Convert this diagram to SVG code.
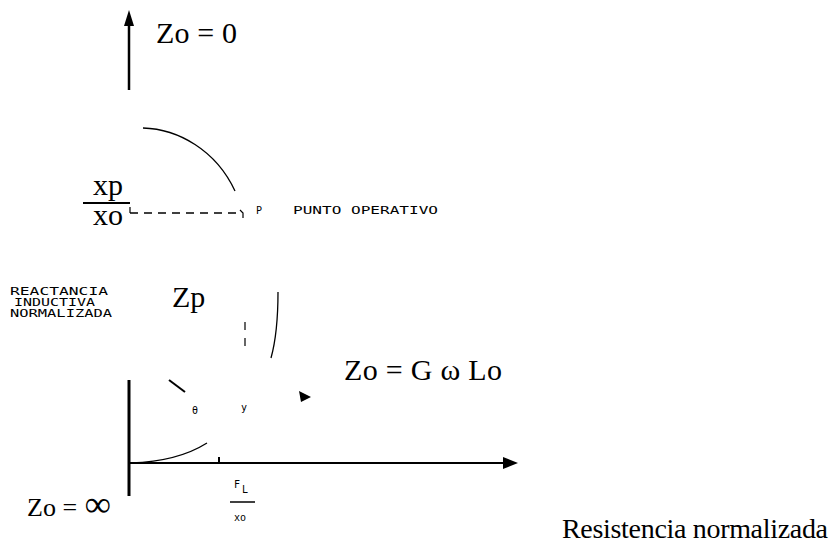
<svg xmlns="http://www.w3.org/2000/svg" width="832" height="551" viewBox="0 0 832 551">
<style>
.serif{font-family:"Liberation Serif","Times New Roman",serif;fill:#000}
.small{font-family:"DejaVu Sans Mono","Liberation Mono",monospace;fill:#000;font-size:10px}
.ln{stroke:#000;fill:none}
</style>
<rect width="832" height="551" fill="#fff"/>
<g id="connectors">
<line class="ln" x1="129" y1="90" x2="129" y2="24" stroke-width="2.5"/>
<polygon points="129,10 124,26 134,26" fill="#000"/>
<line class="ln" x1="129" y1="380" x2="129" y2="496" stroke-width="3"/>
<line class="ln" x1="129" y1="463" x2="506" y2="463" stroke-width="2"/>
<polygon points="518,463 503,457 503,469" fill="#000"/>
<line class="ln" x1="219" y1="457" x2="219" y2="463" stroke-width="2"/>
<line class="ln" x1="130" y1="213" x2="240" y2="213" stroke-width="1.5" stroke-dasharray="8,6"/>
<line class="ln" x1="130" y1="207" x2="130" y2="213" stroke-width="1.2"/>
<path class="ln" d="M240,210 L243,213 L243,218" stroke-width="1.2"/>
<line class="ln" x1="245" y1="322" x2="245" y2="354" stroke-width="1.2" stroke-dasharray="8,8"/>
<path class="ln" d="M143,128 C178,129 216,150 235,191" stroke-width="1.3"/>
<path class="ln" d="M278,292 C278,320 276,340 271,358" stroke-width="1.3"/>
<path class="ln" d="M131,463 C160,462 188,455 207,443" stroke-width="1.3"/>
<line class="ln" x1="169" y1="380" x2="185" y2="392" stroke-width="2"/>
<polygon points="299,391 311,397 301,402" fill="#000"/>
</g>
<g id="label-zo0"><text class="serif" x="156" y="43" font-size="30" textLength="81">Zo = 0</text></g>
<g id="label-frac">
<text class="serif" x="93" y="195" font-size="30">xp</text>
<line class="ln" x1="83" y1="203" x2="130" y2="203" stroke-width="2"/>
<text class="serif" x="93" y="225" font-size="30">xo</text>
</g>
<g id="label-p"><text class="small" x="256" y="214" font-size="11">P</text><text class="small" x="293" y="214" font-size="11" textLength="145" lengthAdjust="spacingAndGlyphs">PUNTO OPERATIVO</text></g>
<g id="label-zp"><text class="serif" x="172" y="307" font-size="30">Zp</text></g>
<g id="label-reactancia">
<text class="small" x="10" y="295" font-size="10" textLength="98" lengthAdjust="spacingAndGlyphs">REACTANCIA</text>
<text class="small" x="14" y="306" font-size="10" textLength="81" lengthAdjust="spacingAndGlyphs">INDUCTIVA</text>
<text class="small" x="10" y="317" font-size="10" textLength="102" lengthAdjust="spacingAndGlyphs">NORMALIZADA</text>
</g>
<g id="label-zog"><text class="serif" x="344" y="380" font-size="30" textLength="158">Zo = G ω Lo</text></g>
<g id="label-theta"><text class="small" x="192" y="414" font-size="10">θ</text></g>
<g id="label-y"><text class="small" x="241" y="411" font-size="11">y</text></g>
<g id="label-zoinf"><text class="serif" x="27" y="516" font-size="26">Zo = </text><text class="serif" x="85" y="516" font-size="36" font-weight="bold">∞</text></g>
<g id="label-fl">
<text class="small" x="234" y="488" font-size="10">F</text><text class="small" x="242" y="493" font-size="8">L</text>
<line class="ln" x1="230" y1="502" x2="255" y2="502" stroke-width="1.5"/>
<text class="small" x="234" y="521" font-size="8">xo</text>
</g>
<g id="label-res"><text class="serif" x="562" y="538" font-size="28" textLength="266">Resistencia normalizada</text></g>
</svg>
